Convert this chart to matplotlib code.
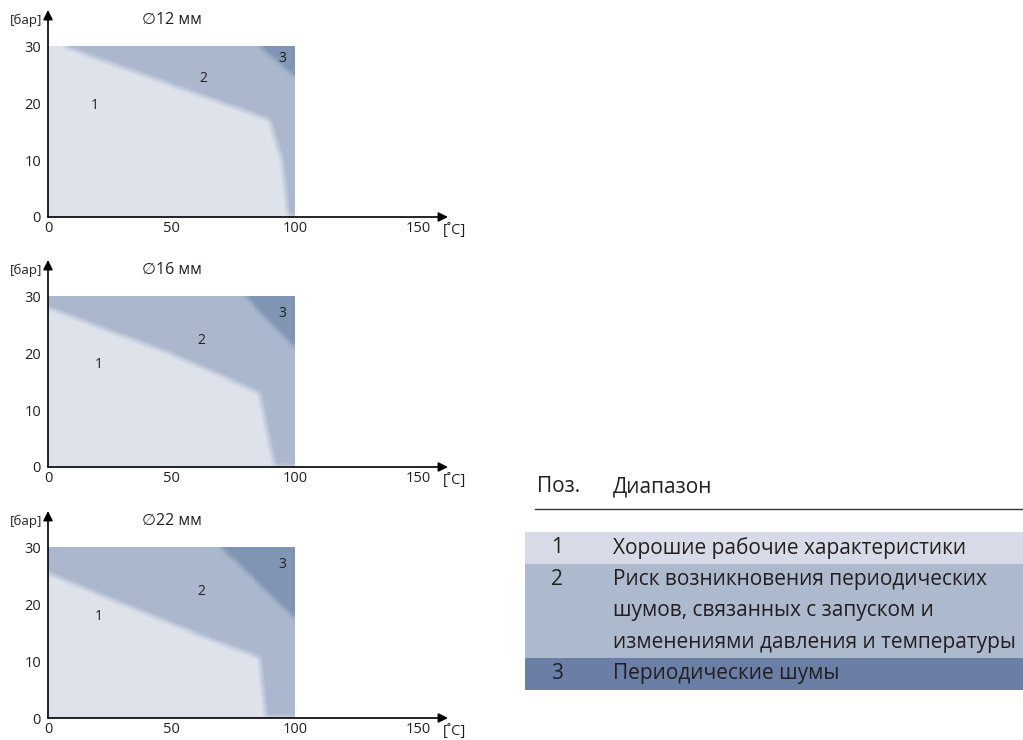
import numpy as np
import matplotlib.pyplot as plt
from matplotlib.patches import Rectangle

plt.rcParams['font.family'] = ['Open Sans', 'DejaVu Sans']

# chart data
diameters = ["∅12 мм", "∅16 мм", "∅22 мм"]
# boundary range 1 / range 2 (temperature, pressure)
b12_t = [[0, 90, 95, 97.5], [0, 50, 86, 92], [0, 50, 86, 88.5]]
b12_p = [[31, 17, 10, 0], [28, 19.8, 13, 0], [25.4, 16.5, 10.6, 0]]
# boundary range 2 / range 3
b23_t = [[86, 100], [80, 100], [70, 100]]
b23_p = [[30, 24.7], [30, 21], [30, 17.5]]
t_max = 100
p_max = 30

x_ticks = [0, 50, 100, 150]
y_ticks = [0, 10, 20, 30]

region_colors = ['#dde2ec', '#aab8cc', '#8195b3']

# table data
legend_head = ["Поз.", "Диапазон"]
legend_nums = ["1", "2", "3"]
legend_texts = [
    "Хорошие рабочие характеристики",
    "Риск возникновения периодических\nшумов, связанных с запуском и\nизменениями давления и температуры",
    "Периодические шумы",
]
legend_colors = ['#d6dbe7', '#adbace', '#6a7ea6']

# layout
W, H = 1023, 740
label_pos = [
    [(19, 19.6), (63, 24.5), (95, 27.9)],
    [(20.5, 18), (62, 22.3), (95, 27)],
    [(20.5, 17.9), (62, 22.3), (95, 27)],
]
axis_bottoms = [217, 467, 718]
txt_color = '#231f20'


def blur(a, k):
    kern = np.ones(k) / k
    f = lambda v: np.convolve(np.pad(v, k // 2, mode='edge'), kern, mode='valid')
    a = np.apply_along_axis(f, 0, a)
    a = np.apply_along_axis(f, 1, a)
    return a


def region_image(i):
    t = np.linspace(0, t_max, 250)
    p = np.linspace(0, p_max, 170)
    T, P = np.meshgrid(t, p)
    reg = np.zeros(T.shape, dtype=int)
    lim12 = np.interp(T, b12_t[i], b12_p[i], right=0)
    reg[P > lim12] = 1
    lim23 = np.where(T >= b23_t[i][0], np.interp(T, b23_t[i], b23_p[i]), np.inf)
    reg[P > lim23] = 2
    cols = np.array([plt.matplotlib.colors.to_rgb(c) for c in region_colors])
    rgb = cols[reg]
    return np.clip(blur(rgb, 7), 0, 1)


fig = plt.figure(figsize=(W / 100, H / 100), dpi=100)

for i, d in enumerate(diameters):
    bottom = axis_bottoms[i]
    ax = fig.add_axes([48 / W, 1 - bottom / H, 400 / W, 207 / H])
    ax.set_xlim(0, 162)
    ax.set_ylim(0, 36.5)
    ax.imshow(region_image(i), extent=[0, t_max, 0, p_max], origin='lower',
              aspect='auto', interpolation='nearest')
    for s in ax.spines.values():
        s.set_visible(False)
    for xy in [(1, 0), (0, 1)]:
        ax.annotate('', xy=xy, xytext=(0, 0), xycoords='axes fraction',
                    arrowprops=dict(arrowstyle='-|>', color='black', lw=1.2,
                                    mutation_scale=14, shrinkA=0, shrinkB=0),
                    annotation_clip=False)
    ax.set_xticks(x_ticks)
    ax.set_yticks(y_ticks)
    ax.tick_params(length=0, labelsize=10.5, colors=txt_color, pad=3)
    ax.tick_params(axis='y', pad=5)
    for num, (x, y) in zip(legend_nums, label_pos[i]):
        ax.text(x, y, num, ha='center', va='center', fontsize=10, color=txt_color)
    ax.text(50, 34.7, d, ha='center', va='center', fontsize=11.5, color=txt_color)
    ax.text(-2.4, 34.7, "[бар]", ha='right', va='center', fontsize=9.5,
            color=txt_color, clip_on=False)
    ax.text(160, -2.4, "[˚C]", ha='left', va='center', fontsize=10.5,
            color=txt_color, clip_on=False)

# legend table
axt = fig.add_axes([0, 0, 1, 1], zorder=-1)
axt.set_xlim(0, W)
axt.set_ylim(H, 0)
axt.axis('off')

fs = 15
axt.text(537, 487, legend_head[0], ha='left', va='center', fontsize=fs, color=txt_color)
axt.text(613, 487, legend_head[1], ha='left', va='center', fontsize=fs, color=txt_color)
axt.plot([535, W], [509, 509], color='#333333', lw=1)

line_h = 31.5
y = 532
for num, text, col in zip(legend_nums, legend_texts, legend_colors):
    lines = text.split("\n")
    h = line_h * len(lines)
    axt.add_patch(Rectangle((525, y), W - 525, h, facecolor=col, edgecolor='none'))
    axt.text(557, y + line_h / 2, num, ha='center', va='center', fontsize=fs, color=txt_color)
    for k, ln in enumerate(lines):
        axt.text(613, y + line_h * (k + 0.5), ln, ha='left', va='center',
                 fontsize=fs, color=txt_color)
    y += h

fig.savefig("out.png", dpi=100)
